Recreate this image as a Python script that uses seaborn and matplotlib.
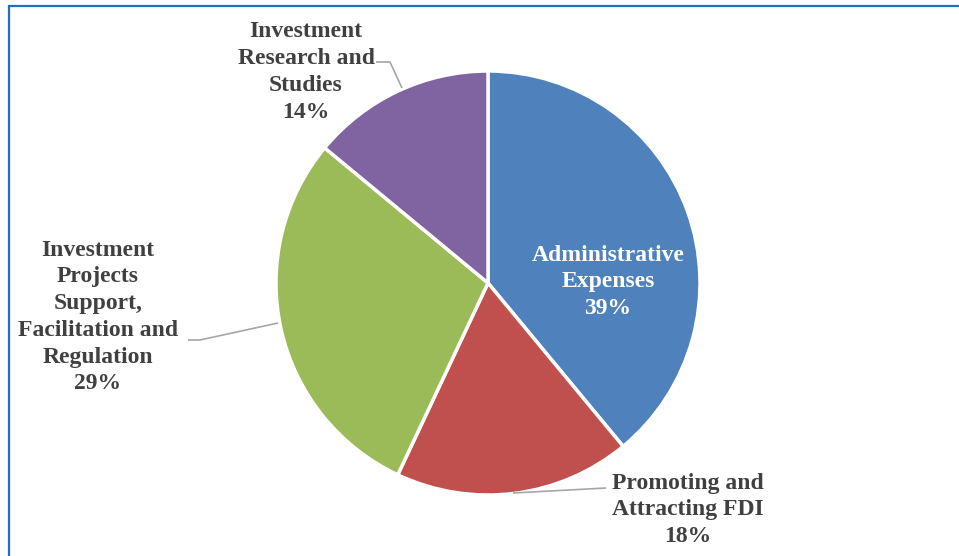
import matplotlib
matplotlib.use("Agg")
import matplotlib.pyplot as plt
import seaborn as sns

categories = ["Administrative\nExpenses", "Promoting and\nAttracting FDI",
              "Investment\nProjects\nSupport,\nFacilitation and\nRegulation",
              "Investment\nResearch and\nStudies"]
shares = [39, 18, 29, 14]
colors = ["#4F81BD", "#C0504D", "#9BBB59", "#8064A2"]

sns.set_theme(style="white")
plt.rcParams["font.family"] = ["Liberation Serif", "DejaVu Serif"]

W, H = 959, 556
fig = plt.figure(figsize=(W / 100, H / 100), dpi=100)
ax = fig.add_axes([0, 0, 1, 1])

cx, cy, r = 488, H - 283, 212
wedges, _ = ax.pie(shares, colors=colors, startangle=90, counterclock=False,
                   center=(cx, cy), radius=r,
                   wedgeprops=dict(edgecolor="white", linewidth=2.5))
ax.set_xlim(0, W)
ax.set_ylim(0, H)
ax.set_aspect("auto")
ax.axis("off")

def py(y):
    return H - y

txt = dict(fontsize=17, fontweight="bold", ha="center", va="center",
           linespacing=1.36)
label_pos = [(608, 282, "white"), (688, 510, "#404040"),
             (98, 317, "#404040"), (306, 72, "#404040")]
for name, val, (x, y, c) in zip(categories, shares, label_pos):
    ax.text(x, py(y), f"{name}\n{val}%", color=c, **txt)

# leader lines
lc = dict(color="#A6A6A6", linewidth=1.2, solid_capstyle="butt")
ax.plot([376, 390, 402], [py(62), py(62), py(88)], **lc)
ax.plot([188, 200, 278], [py(340), py(340), py(323)], **lc)
ax.plot([606, 513], [py(488), py(493)], **lc)

# frame edges
fc = "#1F6EC1"
fig.add_artist(plt.Line2D([9 / W, 1], [1 - 6 / H, 1 - 6 / H], color=fc, linewidth=1.6,
                          transform=fig.transFigure))
fig.add_artist(plt.Line2D([9 / W, 9 / W], [0, 1 - 6 / H], color=fc, linewidth=1.6,
                          transform=fig.transFigure))

fig.savefig("out.png", dpi=100, facecolor="white")
